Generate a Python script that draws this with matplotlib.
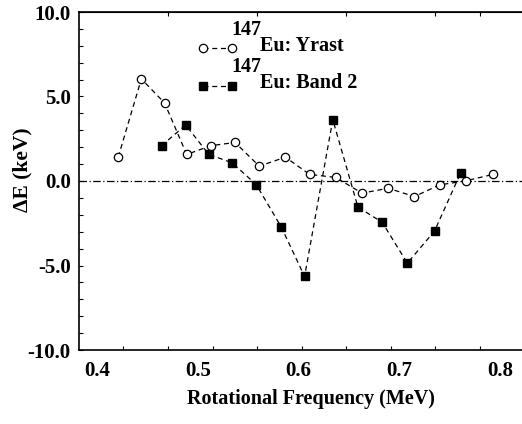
import numpy as np
import matplotlib
matplotlib.use("Agg")
import matplotlib.pyplot as plt

plt.rcParams['font.family'] = ['Liberation Serif', 'DejaVu Serif']
plt.rcParams['font.weight'] = 'bold'

# Eu-147 yrast band
yrast_freq = [0.421, 0.444, 0.467, 0.489, 0.513, 0.537, 0.561, 0.587,
              0.611, 0.637, 0.663, 0.689, 0.715, 0.740, 0.766, 0.793]
yrast_dE = [1.41, 6.04, 4.62, 1.57, 2.09, 2.28, 0.88, 1.41,
            0.39, 0.21, -0.72, -0.43, -0.92, -0.23, 0.01, 0.39]

# Eu-147 band 2
band2_freq = [0.464, 0.488, 0.511, 0.534, 0.558, 0.583, 0.606, 0.634,
              0.659, 0.683, 0.708, 0.735, 0.761]
band2_dE = [2.09, 3.31, 1.57, 1.08, -0.21, -2.74, -5.65, 3.63,
            -1.55, -2.44, -4.86, -2.96, 0.49]

xtick_vals = [0.4, 0.5, 0.6, 0.7, 0.8]
ytick_vals = [-10, -5, 0, 5, 10]

fig = plt.figure(figsize=(5.22, 4.24), dpi=100)
ax = fig.add_axes([79/522, 74/424, 443/522, 338/424])

dash = (0, (4, 3))
ax.axhline(0, color='black', lw=0.9, linestyle=(0, (6, 2, 1, 2)))
ax.plot(yrast_freq, yrast_dE, linestyle=dash, color='black', lw=0.9,
        marker='o', markersize=6, markerfacecolor='white',
        markeredgecolor='black', markeredgewidth=0.9)
ax.plot(band2_freq, band2_dE, linestyle=dash, color='black', lw=0.9,
        marker='s', markersize=5.5, markerfacecolor='black',
        markeredgecolor='black')

ax.set_xlim(0.3821, 0.8218)
ax.set_ylim(-10, 10)

ax.set_xticks(xtick_vals)
ax.set_xticklabels(['%.1f' % v for v in xtick_vals], fontsize=15, fontweight='bold')
ax.tick_params(axis='x', which='major', length=0, pad=8)
ax.set_xticks([0.4258, 0.4705, 0.5151, 0.5588, 0.6035, 0.6471, 0.6918,
               0.7355, 0.7801], minor=True)
ax.tick_params(axis='x', which='minor', direction='in', length=3, width=0.8)

ax.set_yticks(ytick_vals)
ax.set_yticklabels(['%.1f' % v for v in ytick_vals], fontsize=15, fontweight='bold')
ax.set_yticks(np.arange(-10, 11, 1), minor=True)
ax.tick_params(axis='y', which='both', direction='in', length=3, width=0.8, pad=6)

# top ticks
top = ax.secondary_xaxis('top')
top.set_xticks([0.4705, 0.5588, 0.6471, 0.7355, 0.7801])
top.set_xticklabels([])
top.tick_params(direction='in', length=3, width=0.8)

ax.spines['right'].set_visible(False)
for s in ['left', 'bottom']:
    ax.spines[s].set_linewidth(1.2)
top.spines['top'].set_linewidth(1.2)

ax.set_xlabel('Rotational Frequency (MeV)', fontsize=14.5, fontweight='bold')
ax.xaxis.set_label_coords(0.524, -0.115)
ax.set_ylabel('\u0394E (keV)', fontsize=15.5, fontweight='bold')
ax.yaxis.set_label_coords(-0.104, 0.533)

# legend drawn by hand to get the raised mass number
ax.plot([0.280, 0.345], [0.893, 0.893], transform=ax.transAxes, color='black',
        lw=0.9, linestyle=dash, marker='o', markersize=6,
        markerfacecolor='white', markeredgewidth=0.9, clip_on=False)
ax.plot([0.280, 0.345], [0.781, 0.781], transform=ax.transAxes, color='black',
        lw=0.9, linestyle=dash, marker='s', markersize=5.5,
        markerfacecolor='black', clip_on=False)
for yl, yt, txt in [(0.947, 0.899, 'Eu: Yrast'), (0.837, 0.790, 'Eu: Band 2')]:
    ax.text(0.343, yl, '147', transform=ax.transAxes, fontsize=14.5,
            fontweight='bold', va='center', ha='left')
    ax.text(0.409, yt, txt, transform=ax.transAxes, fontsize=14.5,
            fontweight='bold', va='center', ha='left')

fig.savefig('out.png', dpi=100)
